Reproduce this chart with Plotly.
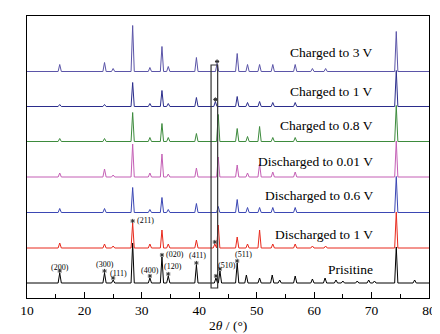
import plotly.graph_objects as go

# ---------------- data ----------------
series_names = ["Prisitine", "Discharged to 1 V", "Discharged to 0.6 V",
                "Discharged to 0.01 V", "Charged to 0.8 V", "Charged to 1 V",
                "Charged to 3 V"]
series_colors = ["#000000", "#e8291c", "#3b47b4", "#c45fb5", "#3d8b3d",
                 "#2b2d8c", "#5b55a8"]
offsets = [15, 50, 85.5, 121, 156.5, 191.5, 226.5]

# peak positions (2theta) and heights (a.u.)
pristine_pos = [15.7, 23.5, 25.0, 28.4, 31.4, 33.5, 34.6, 39.5, 42.9, 43.6, 46.6, 48.2, 50.5,
                52.7, 54.0, 56.7, 59.7, 61.9, 63.8, 65.0, 67.5, 69.5, 70.5, 74.3, 77.5]
pristine_int = [10, 10, 3, 40, 5, 26, 7, 18, 5, 12, 20, 8, 5,
                8, 3, 7, 4, 5, 3, 2, 2, 3, 2, 36, 3]

d1_pos = [15.7, 23.5, 25.0, 28.4, 31.4, 33.5, 34.6, 39.5, 42.7, 43.3, 46.6, 48.4, 50.5,
          52.8, 56.7, 59.7, 62.0, 74.3]
d1_int = [5, 4, 2, 25, 4, 18, 4, 8, 4, 23, 11, 4, 18, 4, 4, 2, 2, 36]

d06_pos = [15.7, 23.5, 28.4, 31.4, 33.5, 34.6, 39.5, 43.3, 46.6, 48.4, 50.5, 52.8, 56.7, 74.3]
d06_int = [4, 4, 25, 3, 15, 3, 9, 6, 13, 5, 5, 5, 5, 36]

d001_pos = [15.7, 23.5, 25.0, 28.4, 31.4, 33.5, 34.6, 39.5, 43.3, 46.6, 48.4, 50.5, 52.8,
            56.7, 74.3]
d001_int = [4, 8, 2, 33, 4, 23, 3, 9, 20, 12, 4, 13, 5, 5, 36]

c08_pos = [15.7, 23.5, 28.4, 31.4, 33.5, 34.6, 39.5, 43.3, 46.6, 48.4, 50.5, 52.8, 56.7, 74.3]
c08_int = [3, 3, 29, 4, 18, 4, 8, 27, 13, 5, 15, 4, 4, 36]

c1_pos = [15.7, 23.5, 28.4, 31.4, 33.5, 34.6, 39.5, 42.8, 46.6, 48.4, 50.5, 52.8, 56.7, 74.3]
c1_int = [2, 2, 24, 3, 16, 3, 9, 5, 10, 4, 5, 4, 4, 36]

c3_pos = [15.7, 23.5, 25.0, 28.4, 31.4, 33.5, 34.6, 39.5, 43.1, 46.6, 48.4, 50.5, 52.8,
          56.7, 59.7, 62.0, 74.3]
c3_int = [7, 9, 3, 46, 4, 25, 5, 14, 8, 18, 7, 7, 7, 7, 3, 3, 40]

peak_pos = [pristine_pos, d1_pos, d06_pos, d001_pos, c08_pos, c1_pos, c3_pos]
peak_int = [pristine_int, d1_int, d06_int, d001_int, c08_int, c1_int, c3_int]

# peaks marked with a star (2theta), per series index
star_series = [0, 0, 0, 0, 0, 0, 0, 0, 0, 0, 1, 1, 5, 6]
star_pos = [15.7, 23.5, 25.0, 31.4, 33.5, 34.6, 39.5, 42.9, 43.6, 46.6, 28.4, 42.7, 42.8, 43.1]

# Miller index labels
hkl_labels = ["(200)", "(300)", "(111)", "(400)", "(020)", "(120)", "(411)", "(510)", "(511)", "(211)"]
hkl_x = [15.7, 23.6, 25.9, 31.5, 35.8, 35.5, 39.7, 44.8, 47.7, 30.6]
hkl_y = [31, 34, 25, 28, 44, 31.5, 42.5, 32.5, 43.5, 78]

label_y = [29, 64, 103, 137, 173, 207, 246]

x_min, x_max = 10, 80
peak_halfwidth = 0.28

# ---------------- figure ----------------
fig = go.Figure()

for i in range(len(series_names)):
    xs = [x_min]
    ys = [offsets[i]]
    for p, h in sorted(zip(peak_pos[i], peak_int[i])):
        xs += [p - peak_halfwidth, p, p + peak_halfwidth]
        ys += [offsets[i], offsets[i] + h, offsets[i]]
    xs.append(x_max)
    ys.append(offsets[i])
    fig.add_trace(go.Scatter(x=xs, y=ys, mode="lines",
                             line=dict(color=series_colors[i], width=1),
                             hoverinfo="skip", showlegend=False))

# stars
sx, sy = [], []
for si, sp in zip(star_series, star_pos):
    h = dict(zip(peak_pos[si], peak_int[si])).get(sp, 0)
    sx.append(sp)
    sy.append(offsets[si] + h + 2)
fig.add_trace(go.Scatter(x=sx, y=sy, mode="markers",
                         marker=dict(symbol="asterisk-open", size=3.5, color="#333333",
                                     line=dict(color="#333333", width=1)),
                         hoverinfo="skip", showlegend=False))

serif = "Liberation Serif"

for name, yv in zip(series_names, label_y):
    fig.add_annotation(x=70.6, y=yv, text=name, showarrow=False,
                       xanchor="right", yanchor="middle",
                       font=dict(family=serif, size=13.5, color="black"))

for t, xv, yv in zip(hkl_labels, hkl_x, hkl_y):
    fig.add_annotation(x=xv, y=yv, text=t, showarrow=False,
                       xanchor="center", yanchor="middle",
                       font=dict(family=serif, size=8, color="black"))

# axis title
fig.add_annotation(x=0.5, y=-0.099, xref="paper", yref="paper",
                   text="2<i>θ</i> / (°)", showarrow=False,
                   xanchor="center", yanchor="middle",
                   font=dict(family=serif, size=13.5, color="black"))

# highlight box
fig.add_shape(type="rect", x0=42.05, x1=43.2, y0=10, y1=233,
              line=dict(color="#333333", width=1.2), fillcolor="rgba(0,0,0,0)")

fig.update_layout(
    width=440, height=334,
    margin=dict(l=19, r=19, t=8, b=44),
    plot_bgcolor="white", paper_bgcolor="white",
    font=dict(family=serif, size=13, color="black"),
    xaxis=dict(range=[x_min, x_max], dtick=10, tick0=10,
               ticks="inside", ticklen=6, tickwidth=1, tickcolor="black",
               minor=dict(dtick=5, ticks="inside", ticklen=4, tickcolor="black"),
               showline=True, linecolor="black", linewidth=1, mirror=True,
               showgrid=False, zeroline=False,
               tickfont=dict(family=serif, size=13.5, color="black")),
    yaxis=dict(range=[0, 282], showticklabels=False, ticks="",
               showline=True, linecolor="black", linewidth=1, mirror=True,
               showgrid=False, zeroline=False),
)

fig.write_html("out.html")
